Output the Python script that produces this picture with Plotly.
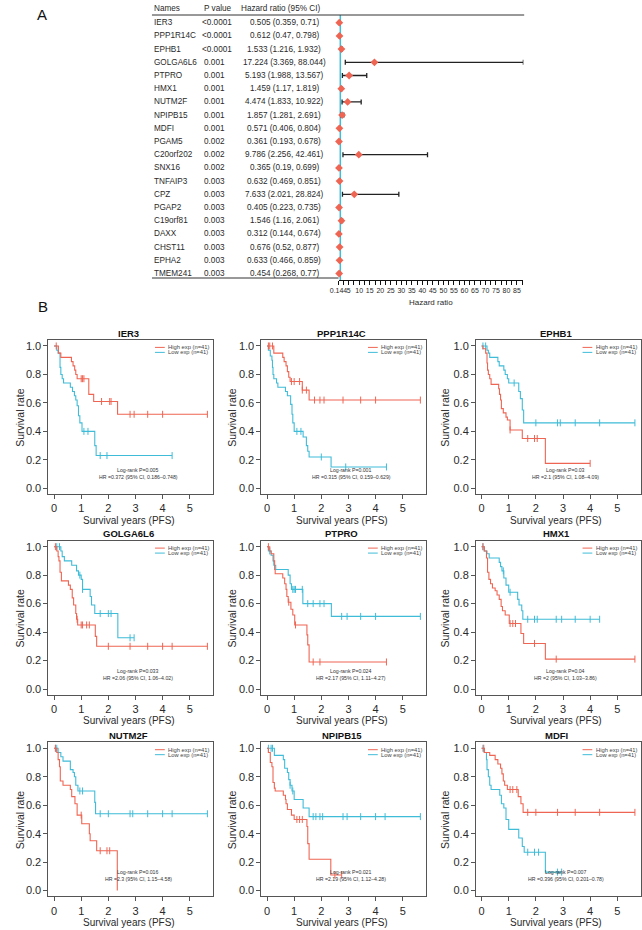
import plotly.graph_objects as go

# ---------------- Forest plot data (panel A) ----------------
GENES = ["IER3", "PPP1R14C", "EPHB1", "GOLGA6L6", "PTPRO", "HMX1", "NUTM2F", "NPIPB15",
         "MDFI", "PGAM5", "C20orf202", "SNX16", "TNFAIP3", "CPZ", "PGAP2", "C19orf81",
         "DAXX", "CHST11", "EPHA2", "TMEM241"]
PVALS = ["<0.0001", "<0.0001", "<0.0001", "0.001", "0.001", "0.001", "0.001", "0.001",
         "0.001", "0.002", "0.002", "0.002", "0.003", "0.003", "0.003", "0.003",
         "0.003", "0.003", "0.003", "0.003"]
HR = [0.505, 0.612, 1.533, 17.224, 5.193, 1.459, 4.474, 1.857, 0.571, 0.361,
      9.786, 0.365, 0.632, 7.633, 0.405, 1.546, 0.312, 0.676, 0.633, 0.454]
HR_LO = [0.359, 0.47, 1.216, 3.369, 1.988, 1.17, 1.833, 1.281, 0.406, 0.193,
         2.256, 0.19, 0.469, 2.021, 0.223, 1.16, 0.144, 0.52, 0.466, 0.268]
HR_HI = [0.71, 0.798, 1.932, 88.044, 13.567, 1.819, 10.922, 2.691, 0.804, 0.678,
         42.461, 0.699, 0.851, 28.824, 0.735, 2.061, 0.674, 0.877, 0.859, 0.77]
FOREST_TICKS = [0.144, 5, 10, 15, 20, 25, 30, 35, 40, 45, 50, 55, 60, 65, 70, 75, 80, 85]

# ---------------- Kaplan-Meier data (panel B) ----------------
KM_GENES = ["IER3", "PPP1R14C", "EPHB1", "GOLGA6L6", "PTPRO", "HMX1", "NUTM2F", "NPIPB15", "MDFI"]
KM_LOGRANK = ["Log-rank P=0.005", "Log-rank P=0.001", "Log-rank P=0.03", "Log-rank P=0.033",
              "Log-rank P=0.024", "Log-rank P=0.04", "Log-rank P=0.016", "Log-rank P=0.021",
              "Log-rank P=0.007"]
KM_HR = ["HR =0.372 (95% CI, 0.186–0.748)", "HR =0.315 (95% CI, 0.159–0.629)",
         "HR =2.1 (95% CI, 1.08–4.09)", "HR =2.06 (95% CI, 1.06–4.02)",
         "HR =2.17 (95% CI, 1.11–4.27)", "HR =2 (95% CI, 1.03–3.86)",
         "HR =2.3 (95% CI, 1.15–4.58)", "HR =2.19 (95% CI, 1.12–4.28)",
         "HR =0.396 (95% CI, 0.201–0.78)"]
LEGEND_HIGH = "High exp (n=41)"
LEGEND_LOW = "Low exp (n=41)"
X_TICKS = [0, 1, 2, 3, 4, 5]
Y_TICKS = [0.0, 0.2, 0.4, 0.6, 0.8, 1.0]

# event times (T), survival after event (S), censor times (C)
IER3_H_T = [0.16, 0.25, 0.64, 0.70, 0.76, 0.80, 0.85, 1.28, 1.46, 2.34]
IER3_H_S = [0.95, 0.92, 0.89, 0.86, 0.83, 0.80, 0.77, 0.66, 0.61, 0.52]
IER3_H_C = [0.08, 1.0, 1.05, 1.1, 1.75, 2.05, 2.1, 2.8, 2.95, 3.45, 4.0, 5.65]
IER3_L_T = [0.10, 0.15, 0.22, 0.25, 0.30, 0.35, 0.60, 0.68, 0.75, 0.80, 0.85, 0.90, 0.95, 1.03, 1.50, 1.55]
IER3_L_S = [0.97, 0.95, 0.85, 0.80, 0.77, 0.74, 0.71, 0.68, 0.65, 0.62, 0.58, 0.51, 0.46, 0.40, 0.30, 0.23]
IER3_L_C = [1.1, 1.25, 1.7, 1.95, 4.35]

PPP1R14C_H_T = [0.25, 0.58, 0.63, 0.70, 0.75, 0.80, 0.85, 1.30, 1.55]
PPP1R14C_H_S = [0.95, 0.92, 0.89, 0.86, 0.82, 0.78, 0.75, 0.69, 0.62]
PPP1R14C_H_C = [0.05, 0.1, 0.2, 0.9, 1.0, 1.2, 1.3, 1.45, 1.75, 1.95, 2.1, 2.8, 3.45, 4.0, 5.65]
PPP1R14C_L_T = [0.05, 0.12, 0.18, 0.20, 0.22, 0.25, 0.35, 0.40, 0.68, 0.75, 0.87, 0.92, 0.95, 1.00, 1.33, 1.45, 1.50, 1.55, 2.36]
PPP1R14C_L_S = [0.97, 0.93, 0.90, 0.85, 0.80, 0.77, 0.74, 0.71, 0.68, 0.65, 0.59, 0.52, 0.46, 0.40, 0.36, 0.30, 0.26, 0.22, 0.15]
PPP1R14C_L_C = [1.1, 1.25, 2.0, 2.9, 4.4]

EPHB1_H_T = [0.05, 0.15, 0.20, 0.22, 0.25, 0.30, 0.35, 0.63, 0.66, 0.70, 0.73, 0.80, 0.90, 0.95, 1.05, 1.50, 2.35]
EPHB1_H_S = [0.98, 0.95, 0.88, 0.83, 0.80, 0.77, 0.73, 0.70, 0.66, 0.62, 0.56, 0.53, 0.50, 0.48, 0.41, 0.35, 0.175]
EPHB1_H_C = [1.05, 1.7, 1.95, 2.05, 4.0]
EPHB1_L_T = [0.20, 0.25, 0.30, 0.60, 0.65, 0.82, 0.87, 0.95, 1.00, 1.37, 1.43, 1.50, 1.55]
EPHB1_L_S = [0.97, 0.95, 0.92, 0.89, 0.86, 0.83, 0.80, 0.77, 0.74, 0.68, 0.63, 0.55, 0.46]
EPHB1_L_C = [0.05, 0.15, 1.2, 2.0, 2.8, 2.9, 3.45, 4.35, 5.65]

GOLGA6L6_H_T = [0.10, 0.15, 0.18, 0.22, 0.27, 0.53, 0.60, 0.67, 0.72, 0.80, 0.83, 0.87, 1.52, 1.57]
GOLGA6L6_H_S = [0.97, 0.93, 0.90, 0.82, 0.76, 0.73, 0.70, 0.64, 0.59, 0.53, 0.49, 0.45, 0.37, 0.30]
GOLGA6L6_H_C = [0.05, 0.85, 1.0, 1.05, 1.2, 1.3, 2.0, 2.8, 3.45, 4.0, 4.35, 5.65]
GOLGA6L6_L_T = [0.25, 0.30, 0.38, 0.65, 0.83, 0.90, 1.00, 1.05, 1.33, 1.38, 1.50, 2.35]
GOLGA6L6_L_S = [0.97, 0.93, 0.90, 0.87, 0.83, 0.80, 0.77, 0.70, 0.65, 0.59, 0.53, 0.36]
GOLGA6L6_L_C = [0.1, 0.2, 0.95, 1.05, 1.7, 2.0, 2.1, 2.8, 2.95]

PTPRO_H_T = [0.10, 0.15, 0.25, 0.28, 0.30, 0.58, 0.65, 0.70, 0.73, 0.78, 0.88, 0.95, 1.02, 1.47, 1.50, 1.55]
PTPRO_H_S = [0.97, 0.95, 0.90, 0.84, 0.81, 0.78, 0.74, 0.70, 0.65, 0.61, 0.56, 0.52, 0.45, 0.38, 0.31, 0.19]
PTPRO_H_C = [0.05, 0.8, 1.05, 1.7, 1.95, 4.4]
PTPRO_L_T = [0.05, 0.15, 0.22, 0.25, 0.32, 0.78, 0.85, 0.90, 1.32, 2.37]
PTPRO_L_S = [0.97, 0.94, 0.90, 0.87, 0.84, 0.80, 0.74, 0.70, 0.60, 0.51]
PTPRO_L_C = [0.1, 0.95, 1.0, 1.05, 1.3, 1.5, 1.7, 1.95, 2.1, 2.75, 2.95, 3.45, 4.0, 5.65]

HMX1_H_T = [0.10, 0.18, 0.22, 0.27, 0.33, 0.40, 0.50, 0.57, 0.65, 0.72, 0.77, 0.87, 1.02, 1.45, 1.55, 2.35]
HMX1_H_S = [0.97, 0.92, 0.82, 0.77, 0.74, 0.71, 0.69, 0.66, 0.63, 0.58, 0.55, 0.52, 0.46, 0.39, 0.32, 0.21]
HMX1_H_C = [0.05, 1.05, 1.15, 1.25, 1.95, 2.75, 5.65]
HMX1_L_T = [0.10, 0.20, 0.28, 0.65, 0.70, 0.75, 0.82, 0.90, 1.00, 1.33, 1.38, 1.48, 1.52]
HMX1_L_S = [0.97, 0.95, 0.92, 0.89, 0.86, 0.83, 0.78, 0.73, 0.68, 0.63, 0.59, 0.55, 0.49]
HMX1_L_C = [0.05, 0.8, 1.05, 1.7, 1.95, 2.05, 2.75, 2.95, 3.45, 4.0, 4.35]

NUTM2F_H_T = [0.10, 0.15, 0.20, 0.23, 0.33, 0.60, 0.65, 0.77, 0.85, 1.02, 1.30, 1.33, 1.57, 2.33]
NUTM2F_H_S = [0.97, 0.92, 0.87, 0.77, 0.74, 0.71, 0.66, 0.61, 0.53, 0.47, 0.40, 0.35, 0.28, 0.0]
NUTM2F_H_C = [0.05, 1.0, 1.7, 1.95, 2.05]
NUTM2F_L_T = [0.15, 0.25, 0.33, 0.60, 0.70, 0.75, 0.80, 0.88, 1.50, 1.53]
NUTM2F_L_S = [0.97, 0.94, 0.91, 0.85, 0.83, 0.80, 0.74, 0.70, 0.62, 0.54]
NUTM2F_L_C = [0.05, 0.1, 0.95, 1.05, 1.7, 2.0, 2.8, 2.9, 3.45, 4.0, 4.35, 5.65]

NPIPB15_H_T = [0.05, 0.12, 0.18, 0.22, 0.27, 0.30, 0.60, 0.68, 0.70, 0.75, 0.90, 1.00, 1.47, 1.50, 1.55, 2.35]
NPIPB15_H_S = [0.97, 0.90, 0.87, 0.76, 0.72, 0.70, 0.67, 0.64, 0.61, 0.57, 0.53, 0.50, 0.45, 0.33, 0.22, 0.11]
NPIPB15_H_C = [1.1, 1.2, 1.3, 2.5, 2.75]
NPIPB15_L_T = [0.27, 0.60, 0.65, 0.75, 0.80, 0.85, 0.92, 1.00, 1.33, 1.55]
NPIPB15_L_S = [0.95, 0.92, 0.86, 0.83, 0.78, 0.74, 0.70, 0.64, 0.58, 0.52]
NPIPB15_L_C = [0.05, 0.15, 0.2, 0.85, 0.95, 1.7, 1.8, 1.95, 2.05, 2.8, 2.95, 3.45, 4.0, 4.35, 5.65]

MDFI_H_T = [0.10, 0.30, 0.50, 0.60, 0.70, 0.75, 0.80, 0.85, 0.95, 1.35, 1.45, 1.53]
MDFI_H_S = [0.97, 0.95, 0.92, 0.89, 0.86, 0.82, 0.77, 0.74, 0.71, 0.66, 0.61, 0.55]
MDFI_H_C = [0.08, 1.05, 1.15, 1.3, 1.7, 2.0, 2.8, 3.45, 4.35, 5.65]
MDFI_L_T = [0.10, 0.18, 0.20, 0.25, 0.30, 0.35, 0.67, 0.73, 0.82, 0.90, 1.00, 1.37, 1.50, 1.57, 2.35]
MDFI_L_S = [0.97, 0.92, 0.85, 0.80, 0.74, 0.71, 0.67, 0.61, 0.58, 0.50, 0.43, 0.37, 0.31, 0.27, 0.13]
MDFI_L_C = [0.05, 1.7, 1.95, 2.1, 2.8, 2.95]

KM_HIGH = [(IER3_H_T, IER3_H_S, IER3_H_C), (PPP1R14C_H_T, PPP1R14C_H_S, PPP1R14C_H_C),
           (EPHB1_H_T, EPHB1_H_S, EPHB1_H_C), (GOLGA6L6_H_T, GOLGA6L6_H_S, GOLGA6L6_H_C),
           (PTPRO_H_T, PTPRO_H_S, PTPRO_H_C), (HMX1_H_T, HMX1_H_S, HMX1_H_C),
           (NUTM2F_H_T, NUTM2F_H_S, NUTM2F_H_C), (NPIPB15_H_T, NPIPB15_H_S, NPIPB15_H_C),
           (MDFI_H_T, MDFI_H_S, MDFI_H_C)]
KM_LOW = [(IER3_L_T, IER3_L_S, IER3_L_C), (PPP1R14C_L_T, PPP1R14C_L_S, PPP1R14C_L_C),
          (EPHB1_L_T, EPHB1_L_S, EPHB1_L_C), (GOLGA6L6_L_T, GOLGA6L6_L_S, GOLGA6L6_L_C),
          (PTPRO_L_T, PTPRO_L_S, PTPRO_L_C), (HMX1_L_T, HMX1_L_S, HMX1_L_C),
          (NUTM2F_L_T, NUTM2F_L_S, NUTM2F_L_C), (NPIPB15_L_T, NPIPB15_L_S, NPIPB15_L_C),
          (MDFI_L_T, MDFI_L_S, MDFI_L_C)]

# ---------------- styling / layout ----------------
W, H = 642, 930
FONT = "Liberation Sans, Arial, Helvetica, sans-serif"
RED = "#ef6553"
BLUE = "#3fbcd8"
TXT = "#2a2a2a"
BOX = "#555555"


def px(x):
    return x / W


def py(y):
    return 1 - y / H


fig = go.Figure()
annotations = []
shapes = []

# ---------- Panel A: forest ----------
F_LEFT, F_RIGHT = 334.2, 521.7
F_TOP, F_BOT = 15, 280
ROW0, ROWSTEP = 22.7, 13.2
n = len(GENES)
yr_top = (F_TOP - ROW0) / ROWSTEP
yr_bot = (F_BOT - ROW0) / ROWSTEP

fig.add_trace(go.Scatter(
    x=HR, y=list(range(n)), mode="markers",
    marker=dict(symbol="diamond", size=6, color=RED),
    error_x=dict(type="data", symmetric=False,
                 array=[h - v for h, v in zip(HR_HI, HR)],
                 arrayminus=[v - l for v, l in zip(HR, HR_LO)],
                 color="#222222", thickness=1.3, width=2.5),
    xaxis="x", yaxis="y", showlegend=False, hoverinfo="skip", cliponaxis=False))

layout_axes = dict(
    xaxis=dict(domain=[px(F_LEFT), px(F_RIGHT)], range=[0.144, 88.044], anchor="y",
               showline=True, linecolor="#111", linewidth=1, showgrid=False, zeroline=False,
               tickmode="array", tickvals=FOREST_TICKS,
               ticktext=[str(t) for t in FOREST_TICKS], tickangle=0,
               ticks="outside", ticklen=4, tickcolor="#111", tickwidth=1,
               tickfont=dict(size=7, family=FONT, color=TXT),
               minor=dict(ticks="outside", ticklen=4, tick0=0, dtick=2.5, tickcolor="#111")),
    yaxis=dict(domain=[py(F_BOT), py(F_TOP)], range=[yr_bot, yr_top], anchor="x",
               showline=False, showgrid=False, zeroline=False, showticklabels=False, ticks=""),
)

# header and table lines
shapes.append(dict(type="line", xref="paper", yref="paper", x0=px(145), x1=px(522.5),
                   y0=py(F_TOP), y1=py(F_TOP), line=dict(color="#333", width=1)))
shapes.append(dict(type="line", xref="paper", yref="paper", x0=px(145), x1=px(F_LEFT),
                   y0=py(278), y1=py(278), line=dict(color="#333", width=1)))
# reference line at HR = 1
shapes.append(dict(type="line", xref="x", yref="paper", x0=1, x1=1,
                   y0=py(F_BOT), y1=py(F_TOP), line=dict(color=BLUE, width=1.5), layer="below"))

TF = 8.2
for txt, x, anc in [("Names", 145, "left"), ("P value", 196, "left")]:
    annotations.append(dict(text=txt, x=px(x), y=py(9), xref="paper", yref="paper",
                            xanchor=anc, yanchor="middle", showarrow=False,
                            font=dict(size=TF, family=FONT, color=TXT)))
annotations.append(dict(text="Hazard ratio (95% CI)", x=px(275.5), y=py(9), xref="paper", yref="paper",
                        xanchor="center", yanchor="middle", showarrow=False,
                        font=dict(size=TF, family=FONT, color=TXT)))
for i in range(n):
    yy = py(ROW0 + ROWSTEP * i)
    annotations.append(dict(text=GENES[i], x=px(145), y=yy, xref="paper", yref="paper",
                            xanchor="left", yanchor="middle", showarrow=False,
                            font=dict(size=TF, family=FONT, color=TXT)))
    annotations.append(dict(text=PVALS[i], x=px(193.5 if PVALS[i].startswith("<") else 196),
                            y=yy, xref="paper", yref="paper",
                            xanchor="left", yanchor="middle", showarrow=False,
                            font=dict(size=TF, family=FONT, color=TXT)))
    annotations.append(dict(text=f"{HR[i]} ({HR_LO[i]}, {HR_HI[i]})", x=px(279), y=yy,
                            xref="paper", yref="paper", xanchor="center", yanchor="middle",
                            showarrow=False, font=dict(size=TF, family=FONT, color=TXT)))
annotations.append(dict(text="Hazard ratio", x=px(428), y=py(302.5), xref="paper", yref="paper",
                        xanchor="center", yanchor="middle", showarrow=False,
                        font=dict(size=8, family=FONT, color=TXT)))
annotations.append(dict(text="A", x=px(33), y=py(15), xref="paper", yref="paper",
                        xanchor="center", yanchor="middle", showarrow=False,
                        font=dict(size=15, family=FONT, color="#111")))
annotations.append(dict(text="B", x=px(34), y=py(306), xref="paper", yref="paper",
                        xanchor="center", yanchor="middle", showarrow=False,
                        font=dict(size=15, family=FONT, color="#111")))

# ---------- Panel B: KM grid ----------
COL_LEFT = [40, 256, 473.6]
ROW_TOP = [340, 540.7, 742.3]
PW, PH = 167, 154
XR = [-0.207, 5.86]
YR = [-0.04, 1.042]
YTITLE_X = [11, 226, 442]


def surv_at(times, surv, t):
    s = 1.0
    for tt, ss in zip(times, surv):
        if tt <= t:
            s = ss
    return s


for k in range(9):
    r, c = divmod(k, 3)
    ax = k + 2
    xname, yname = f"x{ax}", f"y{ax}"
    left, top = COL_LEFT[c], ROW_TOP[r]
    layout_axes[f"xaxis{ax}"] = dict(
        domain=[px(left), px(left + PW)], range=XR, anchor=yname,
        showline=True, mirror=True, linecolor=BOX, linewidth=1, showgrid=False, zeroline=False,
        tickmode="array", tickvals=X_TICKS, ticktext=[str(v) for v in X_TICKS],
        ticks="outside", ticklen=4, tickcolor=BOX, tickfont=dict(size=11, family=FONT, color=TXT))
    layout_axes[f"yaxis{ax}"] = dict(
        domain=[py(top + PH), py(top)], range=YR, anchor=xname,
        showline=True, mirror=True, linecolor=BOX, linewidth=1, showgrid=False, zeroline=False,
        tickmode="array", tickvals=Y_TICKS, ticktext=[f"{v:.1f}" for v in Y_TICKS],
        ticks="outside", ticklen=4, tickcolor=BOX, tickfont=dict(size=11, family=FONT, color=TXT))

    for (times, surv, cens), col in [(KM_LOW[k], BLUE), (KM_HIGH[k], RED)]:
        end = max(max(cens) if cens else 0, times[-1])
        xs = [0] + list(times) + [end]
        ys = [1.0] + list(surv) + [surv[-1]]
        fig.add_trace(go.Scatter(x=xs, y=ys, mode="lines", xaxis=xname, yaxis=yname,
                                 line=dict(shape="hv", color=col, width=1.1),
                                 showlegend=False, hoverinfo="skip"))
        fig.add_trace(go.Scatter(x=cens, y=[surv_at(times, surv, t) for t in cens], mode="markers",
                                 xaxis=xname, yaxis=yname,
                                 marker=dict(symbol="line-ns-open", size=5, color=col,
                                             line=dict(color=col, width=1)),
                                 showlegend=False, hoverinfo="skip"))

    # legend
    for yv, col, lab in [(0.99, RED, LEGEND_HIGH), (0.955, BLUE, LEGEND_LOW)]:
        shapes.append(dict(type="line", xref=xname, yref=yname, x0=3.72, x1=4.08, y0=yv, y1=yv,
                           line=dict(color=col, width=1)))
        annotations.append(dict(text=lab, x=4.14, y=yv, xref=xname, yref=yname,
                                xanchor="left", yanchor="middle", showarrow=False,
                                font=dict(size=5.8, family=FONT, color="#444")))
    annotations.append(dict(text=KM_LOGRANK[k], x=3.1, y=0.13, xref=xname, yref=yname,
                            xanchor="center", yanchor="middle", showarrow=False,
                            font=dict(size=5.2, family=FONT, color="#333")))
    annotations.append(dict(text=KM_HR[k], x=3.1, y=0.08, xref=xname, yref=yname,
                            xanchor="center", yanchor="middle", showarrow=False,
                            font=dict(size=5.2, family=FONT, color="#333")))
    # title
    annotations.append(dict(text=f"<b>{KM_GENES[k]}</b>", x=px(left + PW / 2 - 2), y=py(top - 7),
                            xref="paper", yref="paper", xanchor="center", yanchor="middle",
                            showarrow=False, font=dict(size=9.5, family=FONT, color="#111")))
    # axis titles
    annotations.append(dict(text="Survival years (PFS)", x=px(left + PW / 2 - 2), y=py(top + PH + 26),
                            xref="paper", yref="paper", xanchor="center", yanchor="middle",
                            showarrow=False, font=dict(size=10, family=FONT, color=TXT)))
    annotations.append(dict(text="Survival rate", x=px(YTITLE_X[c]), y=py(top + PH / 2),
                            xref="paper", yref="paper", xanchor="center", yanchor="middle",
                            textangle=-90, showarrow=False,
                            font=dict(size=10.5, family=FONT, color=TXT)))

fig.update_layout(
    width=W, height=H, autosize=False, margin=dict(l=0, r=0, t=0, b=0),
    paper_bgcolor="white", plot_bgcolor="white",
    annotations=annotations, shapes=shapes, showlegend=False,
    **layout_axes)

POST = ("document.documentElement.style.margin='0';document.documentElement.style.padding='0';"
        "document.body.style.margin='0';document.body.style.padding='0';"
        "document.body.style.overflow='hidden';"
        "var gd=document.getElementById('{plot_id}');"
        "gd.style.position='absolute';gd.style.left='0px';gd.style.top='0px';"
        "gd.style.width='642px';gd.style.height='930px';"
        "Plotly.relayout(gd,{width:642,height:930});")

fig.write_html("out.html", config={"displayModeBar": False, "responsive": False},
               post_script=POST)
